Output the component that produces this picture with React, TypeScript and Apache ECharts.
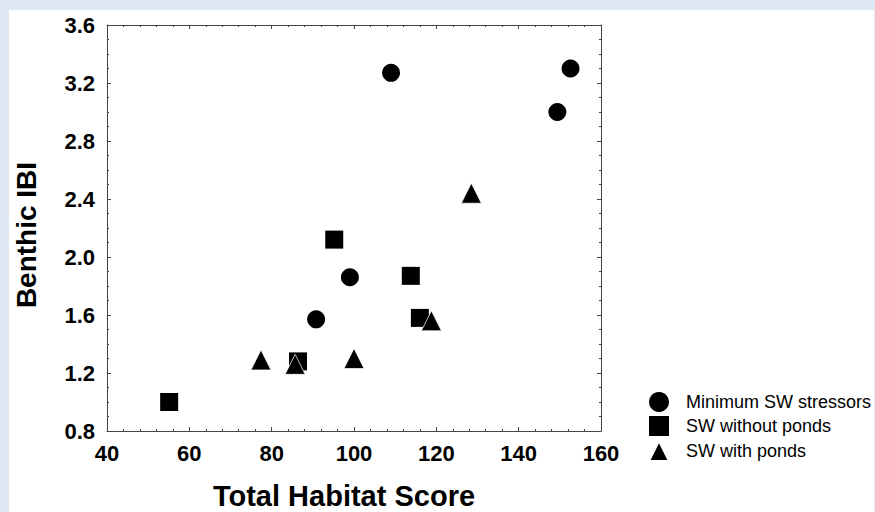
import React, { useEffect, useRef } from "react";
import * as echarts from "echarts";

const seriesNames = ["Minimum SW stressors", "SW without ponds", "SW with ponds"];
const minimumStressors: number[][] = [
  [109.0, 3.27],
  [152.6, 3.3],
  [149.4, 3.0],
  [99.0, 1.86],
  [90.8, 1.57],
];
const withoutPonds: number[][] = [
  [95.2, 2.12],
  [113.8, 1.87],
  [116.0, 1.58],
  [86.4, 1.28],
  [55.1, 1.0],
];
const withPonds: number[][] = [
  [128.5, 2.44],
  [118.8, 1.56],
  [77.4, 1.29],
  [85.7, 1.26],
  [100.0, 1.3],
];
const xRange = { min: 40, max: 160, interval: 20 };
const yRange = { min: 0.8, max: 3.6, interval: 0.4 };
const xTitle = "Total Habitat Score";
const yTitle = "Benthic IBI";

const FONT = "'Liberation Sans', Arial, sans-serif";
const AXIS_COLOR = "#444";

export default function App() {
  const ref = useRef<HTMLDivElement>(null);
  useEffect(() => {
    if (!ref.current) return;
    const chart = echarts.init(ref.current, undefined, { renderer: "svg" });
    const lineStyle = { color: AXIS_COLOR, width: 1 };
    const baseX = {
      type: "value" as const,
      min: xRange.min,
      max: xRange.max,
      interval: xRange.interval,
      splitLine: { show: false },
      axisLine: { show: true, onZero: false, lineStyle },
      axisTick: { show: true, inside: true, length: 4, lineStyle },
      minorTick: { show: true, splitNumber: 5, length: 2, lineStyle },
    };
    const baseY = {
      type: "value" as const,
      min: yRange.min,
      max: yRange.max,
      interval: yRange.interval,
      splitLine: { show: false },
      axisLine: { show: true, onZero: false, lineStyle },
      axisTick: { show: true, inside: true, length: 4, lineStyle },
      minorTick: { show: true, splitNumber: 4, length: 2, lineStyle },
    };
    const labelStyle = {
      fontFamily: FONT,
      fontWeight: "bold" as const,
      fontSize: 22,
      color: "#000",
    };
    const markerStyle = { color: "#000", opacity: 1 };
    chart.setOption({
      animation: false,
      backgroundColor: "#ffffff",
      textStyle: { fontFamily: FONT },
      grid: {
        left: 98,
        top: 15,
        width: 494,
        height: 406,
        containLabel: false,
        outerBoundsMode: "none",
      },
      legend: {
        left: 639,
        top: 382,
        padding: 0,
        orient: "vertical",
        itemWidth: 20,
        itemHeight: 20,
        itemGap: 4,
        data: seriesNames,
        textStyle: {
          fontFamily: FONT,
          fontSize: 18,
          color: "#000",
          lineHeight: 20,
          padding: [0, 0, 0, 12],
        },
      },
      xAxis: [
        {
          ...baseX,
          position: "bottom",
          name: xTitle,
          nameLocation: "middle",
          nameGap: 50,
          nameTextStyle: {
            fontFamily: FONT,
            fontWeight: "bold",
            fontSize: 29,
            lineHeight: 29,
            color: "#000",
            padding: [0, 20, 0, 0],
          },
          axisLabel: { ...labelStyle, margin: 11 },
        },
        {
          ...baseX,
          position: "top",
          axisLabel: { show: false },
        },
      ],
      yAxis: [
        {
          ...baseY,
          position: "left",
          name: yTitle,
          nameLocation: "middle",
          nameGap: 67,
          nameTextStyle: {
            fontFamily: FONT,
            fontWeight: "bold",
            fontSize: 28,
            color: "#000",
            padding: [0, 14, 0, 0],
          },
          axisLabel: {
            ...labelStyle,
            margin: 12,
            formatter: (v: number) => v.toFixed(1),
          },
        },
        {
          ...baseY,
          position: "right",
          axisLabel: { show: false },
        },
      ],
      series: [
        {
          name: seriesNames[0],
          type: "scatter",
          symbol: "circle",
          symbolSize: 18,
          itemStyle: markerStyle,
          data: minimumStressors,
        },
        {
          name: seriesNames[1],
          type: "scatter",
          symbol: "rect",
          symbolSize: 18,
          itemStyle: markerStyle,
          data: withoutPonds,
        },
        {
          name: seriesNames[2],
          type: "scatter",
          symbol: "triangle",
          symbolSize: 20,
          itemStyle: { ...markerStyle, borderColor: "#ffffff", borderWidth: 0.7 },
          data: withPonds,
        },
      ],
    });
    return () => chart.dispose();
  }, []);
  return (
    <div
      style={{
        position: "fixed",
        left: 0,
        top: 0,
        width: 875,
        height: 512,
        background: "#dfe9f3",
      }}
    >
      <div
        ref={ref}
        style={{ position: "absolute", left: 9, top: 10, width: 865, height: 502 }}
      />
    </div>
  );
}
